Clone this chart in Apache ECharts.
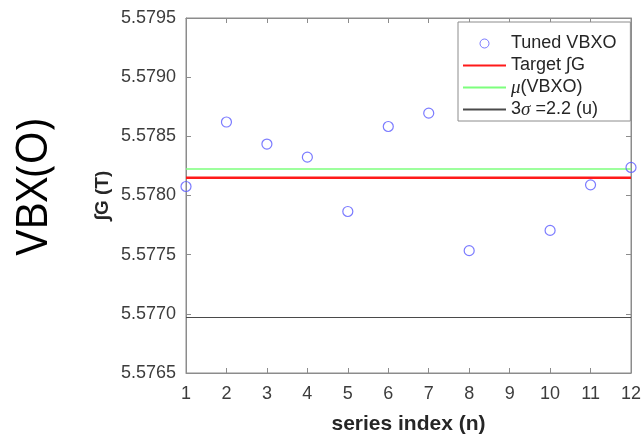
<!DOCTYPE html>
<html><head><meta charset="utf-8">
<script src="https://cdn.jsdelivr.net/npm/echarts@6/dist/echarts.min.js"></script>
<style>html,body{margin:0;padding:0;background:#fff;}#c{width:644px;height:436px;}</style>
</head><body><div id="c"></div>
<script>
// Data
var seriesIndex = [1, 2, 3, 4, 5, 6, 7, 8, 10, 11, 12];
var tunedVBXO = [5.578076, 5.578621, 5.578435, 5.578324, 5.577865, 5.578583, 5.578696, 5.577534, 5.577705, 5.578090, 5.578237];
var targetG = 5.57815;
var meanVBXO = 5.578224;
var threeSigmaLine = 5.576969;
var xRange = [1, 12];
var yRange = [5.5765, 5.5795];
var yStep = 0.0005;
var seriesNames = ['Tuned VBXO', 'Target \u222BG', '\u03BC(VBXO)', '3\u03C3 =2.2 (u)'];

var FONT = '"Liberation Sans", Arial, Helvetica, sans-serif';
var axisCol = '#8c8c8c';
var labCol = '#3c3c3c';

function hline(v) { return [[xRange[0], v], [xRange[1], v]]; }
var hidden = {color: 'transparent', borderColor: 'transparent', borderWidth: 0};

var chart = echarts.init(document.getElementById('c'), null, {renderer: 'canvas'});
chart.setOption({
  animation: false,
  backgroundColor: '#fff',
  grid: {left: 186, right: 13, top: 18, bottom: 63, containLabel: false, outerBoundsMode: 'none',
    show: true, borderColor: axisCol, borderWidth: 1, backgroundColor: '#fff'},
  xAxis: [{
    type: 'value', min: xRange[0], max: xRange[1], interval: 1,
    name: 'series index (n)', nameLocation: 'middle', nameGap: 41,
    nameTextStyle: {fontFamily: FONT, fontSize: 21, fontWeight: 'bold', color: '#262626'},
    axisLine: {show: true, lineStyle: {color: axisCol}},
    axisTick: {show: true, inside: true, length: 5, lineStyle: {color: axisCol}},
    axisLabel: {fontFamily: FONT, fontSize: 18, color: labCol, margin: 12},
    splitLine: {show: false}
  }, {
    type: 'value', position: 'top', min: xRange[0], max: xRange[1], interval: 1,
    axisLine: {show: true, lineStyle: {color: axisCol}},
    axisTick: {show: true, inside: true, length: 5, lineStyle: {color: axisCol}},
    axisLabel: {show: false}, splitLine: {show: false}
  }],
  yAxis: [{
    type: 'value', min: yRange[0], max: yRange[1], interval: yStep,
    name: '\u222BG (T)', nameLocation: 'middle', nameGap: 74, nameRotate: 90, nameMoveOverlap: false,
    nameTextStyle: {fontFamily: FONT, fontSize: 19, fontWeight: 'bold', color: '#262626'},
    axisLine: {show: true, lineStyle: {color: axisCol}},
    axisTick: {show: true, inside: true, length: 5, lineStyle: {color: axisCol}},
    axisLabel: {fontFamily: FONT, fontSize: 18, color: labCol, margin: 10,
      formatter: function (v) { return v.toFixed(4); }},
    splitLine: {show: false}
  }, {
    type: 'value', position: 'right', min: yRange[0], max: yRange[1], interval: yStep,
    axisLine: {show: true, lineStyle: {color: axisCol}},
    axisTick: {show: true, inside: true, length: 5, lineStyle: {color: axisCol}},
    axisLabel: {show: false}, splitLine: {show: false}
  }],
  legend: {
    orient: 'vertical', left: 458, top: 22,
    padding: [12, 14, 2, 4], itemGap: 3, itemWidth: 43, itemHeight: 9,
    backgroundColor: '#fff', borderColor: '#8c8c8c', borderWidth: 1,
    textStyle: {fontFamily: FONT, fontSize: 18, color: '#262626', lineHeight: 19,
      rich: {it: {fontFamily: 'Liberation Serif, serif', fontStyle: 'italic', fontSize: 19, color: '#262626'},
             n: {fontFamily: FONT, fontSize: 18, color: '#262626'}}},
    formatter: function (name) {
      if (name === seriesNames[2]) return '{it|\u03BC}{n|(VBXO)}';
      if (name === seriesNames[3]) return '{n|3}{it|\u03C3}{n| =2.2 (u)}';
      return name;
    },
    data: [
      {name: seriesNames[0], itemStyle: {color: 'transparent', borderColor: '#5a5aff', borderWidth: 1}},
      {name: seriesNames[1], itemStyle: hidden},
      {name: seriesNames[2], itemStyle: hidden},
      {name: seriesNames[3], itemStyle: hidden}
    ]
  },
  graphic: [{
    type: 'text', x: 35, y: 187, rotation: Math.PI / 2,
    style: {text: 'VBX(O)', font: '43px "Open Sans", sans-serif', fill: '#000', textAlign: 'center', textVerticalAlign: 'middle'}
  }],
  series: [{
    name: seriesNames[1], type: 'line', symbol: 'none', data: hline(targetG),
    lineStyle: {color: '#ff1a1a', width: 2.5}, z: 2
  }, {
    name: seriesNames[2], type: 'line', symbol: 'none', data: hline(meanVBXO),
    lineStyle: {color: '#7dff7d', width: 1.5}, z: 2
  }, {
    name: seriesNames[3], type: 'line', symbol: 'none', data: hline(threeSigmaLine),
    lineStyle: {color: '#4a4a4a', width: 1}, z: 2
  }, {
    name: seriesNames[0], type: 'scatter', symbol: 'circle', symbolSize: 10,
    data: seriesIndex.map(function (x, i) { return [x, tunedVBXO[i]]; }),
    itemStyle: {color: 'transparent', borderColor: '#5a5aff', borderWidth: 1.2}, z: 3
  }]
});
</script></body></html>
